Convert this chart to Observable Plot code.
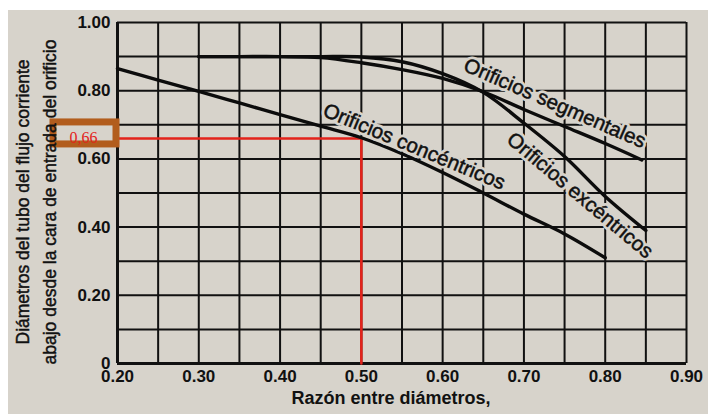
<!DOCTYPE html>
<html><head><meta charset="utf-8">
<script src="https://cdn.jsdelivr.net/npm/d3@7"></script>
<script src="https://cdn.jsdelivr.net/npm/@observablehq/plot@0.6"></script>
<style>
html,body{margin:0;padding:0;background:#fff;}
#wrap{position:relative;width:708px;height:414px;overflow:hidden;background:#fff;}
#paper{position:absolute;left:8px;top:10px;right:0;bottom:0;background:#d7d3cb;}
#chart{position:absolute;left:0;top:0;}
</style></head><body>
<div id="wrap"><div id="paper"></div><div id="chart"></div></div>
<script>
// ---- data ----
const xTicks = [0.2, 0.3, 0.4, 0.5, 0.6, 0.7, 0.8, 0.9];
const yTicks = [0, 0.2, 0.4, 0.6, 0.8, 1.0];
const xGrid = [0.2, 0.25, 0.3, 0.35, 0.4, 0.45, 0.5, 0.55, 0.6, 0.65, 0.7, 0.75, 0.8, 0.85, 0.9];
const yGrid = [0, 0.1, 0.2, 0.3, 0.4, 0.5, 0.6, 0.7, 0.8, 0.9, 1.0];

const seriesNames = ["Orificios concéntricos", "Orificios segmentales", "Orificios excéntricos"];
const concX = [0.20, 0.25, 0.30, 0.35, 0.40, 0.45, 0.50, 0.55, 0.60, 0.65, 0.70, 0.75, 0.80];
const concY = [0.865, 0.831, 0.798, 0.764, 0.730, 0.696, 0.662, 0.615, 0.560, 0.500, 0.438, 0.380, 0.310];
const segX = [0.30, 0.35, 0.40, 0.45, 0.50, 0.55, 0.60, 0.65, 0.70, 0.75, 0.80, 0.845];
const segY = [0.900, 0.900, 0.900, 0.897, 0.882, 0.862, 0.836, 0.797, 0.745, 0.695, 0.645, 0.597];
const excX = [0.30, 0.35, 0.40, 0.45, 0.50, 0.55, 0.60, 0.65, 0.70, 0.75, 0.80, 0.85];
const excY = [0.900, 0.900, 0.900, 0.900, 0.899, 0.885, 0.850, 0.795, 0.705, 0.607, 0.490, 0.390];

const readRatio = 0.5;   // razón leída
const readValue = 0.66;  // valor leído

const xTitle = "Razón entre diámetros,";
const yTitle1 = "Diámetros del tubo del flujo corriente";
const yTitle2 = "abajo desde la cara de entrada del orificio";

// ---- build ----
const toPts = (X, Y, s) => X.map((x, i) => ({x, y: Y[i], s}));
const curves = [
  toPts(concX, concY, seriesNames[0]),
  toPts(segX, segY, seriesNames[1]),
  toPts(excX, excY, seriesNames[2])
];
const xMin = xTicks[0];
const readPath = [
  {x: xMin, y: readValue}, {x: readRatio, y: readValue}, {x: readRatio, y: 0}
];
// label placement along each curve (data coords) and rotation
const labels = [
  {s: seriesNames[0], x: 0.565, y: 0.636, r: 22.5},
  {s: seriesNames[1], x: 0.738, y: 0.763, r: 23.5},
  {s: seriesNames[2], x: 0.769, y: 0.493, r: 40}
];
const paper = "#d7d3cb";
const font = "'Liberation Sans', Arial, Helvetica, sans-serif";

const chart = Plot.plot({
  width: 708, height: 414,
  marginLeft: 117, marginRight: 22, marginTop: 22, marginBottom: 51,
  style: {background: "transparent", fontFamily: font, fontSize: "17px", fontWeight: "bold", color: "#111"},
  x: {domain: [0.2, 0.9], ticks: xTicks, tickFormat: d => d.toFixed(2), tickSize: 0, tickPadding: 6, label: null},
  y: {domain: [0, 1], ticks: yTicks, tickFormat: d => d === 0 ? "0" : d.toFixed(2), tickSize: 0, tickPadding: 7, label: null},
  marks: [
    Plot.ruleX(xGrid, {stroke: "#111", strokeWidth: 2}),
    Plot.ruleY(yGrid, {stroke: "#111", strokeWidth: 2}),
    Plot.ruleX([xMin], {stroke: "#111", strokeWidth: 3}),
    Plot.ruleY([0], {stroke: "#111", strokeWidth: 3}),
    Plot.line(readPath, {x: "x", y: "y", stroke: "#e3231b", strokeWidth: 2.6}),
    ...curves.map(c => Plot.line(c, {x: "x", y: "y", stroke: "#0c0c0c", strokeWidth: 3.4, curve: "catmull-rom"})),
    // label halos
    ...labels.map(l => Plot.text([l], {x: "x", y: "y", text: "s", rotate: l.r, fontSize: 20.5, fontWeight: "normal",
      fill: "none", stroke: paper, strokeWidth: 6, strokeLinejoin: "round"})),
    ...labels.map(l => Plot.text([l], {x: "x", y: "y", text: "s", rotate: l.r, fontSize: 20.5, fontWeight: "normal",
      fill: "#111", stroke: "#111", strokeWidth: 0.5})),
    // annotation box around the read value
    Plot.rect([readValue], {x1: () => xMin, x2: () => xMin, y1: d => d, y2: d => d,
      insetLeft: -64, insetRight: 1, insetTop: -16, insetBottom: -6,
      fill: paper, stroke: "#b25d1d", strokeWidth: 7}),
    Plot.text([readValue], {x: () => xMin, y: d => d, dx: -34, dy: -1, text: d => String(d).replace(".", ","),
      textAnchor: "middle",
      fill: "#e3231b", fontFamily: "'Liberation Serif', 'DejaVu Serif', serif", fontSize: 16, fontWeight: "normal"}),
    // axis titles
    Plot.text([xTitle], {frameAnchor: "bottom", textAnchor: "middle", dx: -11, dy: 40, fontSize: 18, fontWeight: "bold", fill: "#111"}),
    Plot.text([yTitle1], {frameAnchor: "left", textAnchor: "middle", rotate: -90, dx: -94, dy: 9, fontSize: 17.5, fontWeight: "normal", fill: "#111", stroke: "#111", strokeWidth: 0.45}),
    Plot.text([yTitle2], {frameAnchor: "left", textAnchor: "middle", rotate: -90, dx: -67, dy: 9, fontSize: 17.5, fontWeight: "normal", fill: "#111", stroke: "#111", strokeWidth: 0.45})
  ]
});
document.getElementById("chart").appendChild(chart);
</script>
</body></html>
